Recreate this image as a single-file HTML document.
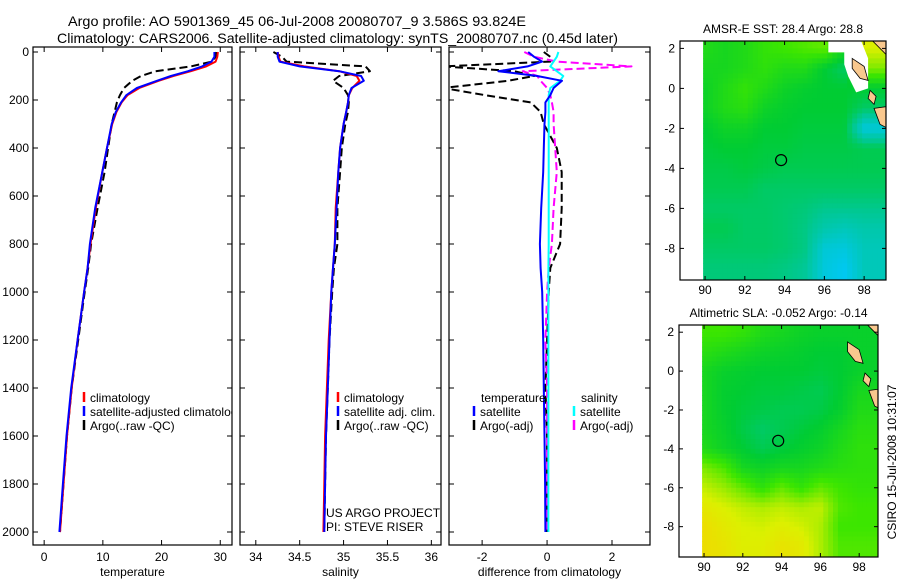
<!DOCTYPE html>
<html><head><meta charset="utf-8"><style>
html,body{margin:0;padding:0;background:#fff;}
svg{display:block;font-family:"Liberation Sans",sans-serif;}
</style></head><body>
<svg id="fig" width="900" height="580" viewBox="0 0 900 580" xmlns="http://www.w3.org/2000/svg">
<defs>
<clipPath id="c1"><rect x="33" y="47" width="199" height="498"/></clipPath>
<clipPath id="c2"><rect x="240" y="47" width="201" height="498"/></clipPath>
<clipPath id="c3"><rect x="449" y="47" width="201" height="498"/></clipPath>
<clipPath id="cm1"><rect x="680" y="41" width="206" height="239"/></clipPath>
<clipPath id="cm2"><rect x="679" y="325" width="199" height="232"/></clipPath>
</defs>
<text x="68" y="26" font-size="14" textLength="458" lengthAdjust="spacingAndGlyphs">Argo profile: AO 5901369_45 06-Jul-2008 20080707_9 3.586S 93.824E</text>
<text x="57" y="43" font-size="14" textLength="561" lengthAdjust="spacingAndGlyphs">Climatology: CARS2006. Satellite-adjusted climatology: synTS_20080707.nc (0.45d later)</text>
<g id="plots"></g>
<text transform="translate(896,462) rotate(-90)" font-size="12" text-anchor="middle">CSIRO 15-Jul-2008 10:31:07</text>
</svg>
<script>
// ---- profile data (depth in m) ----
const depth      = [0,   20,  40,  60,  80,  100, 120, 150, 180, 210, 250, 300, 400, 500, 650, 800, 900, 1000,1200,1400,1600,1800,2000];
const tempClim   = [29.6,29.5,29.2,27.6,25.0,22.0,19.5,16.2,14.2,13.2,12.3,11.6,10.7,9.9, 8.8, 7.9, 7.4, 6.8, 5.7, 4.7, 3.9, 3.3, 2.7];
const tempSat    = [29.0,29.0,28.5,26.9,24.5,21.6,19.2,15.8,14.0,13.1,12.2,11.5,10.7,9.9, 8.7, 7.8, 7.4, 6.8, 5.7, 4.6, 3.8, 3.2, 2.6];
const tempArgo   = [29.3,29.2,28.6,25.0,19.0,16.5,15.0,13.6,12.9,12.4,12.0,11.5,10.9,10.3,9.1, 8.0, 7.5, 6.9, 5.8, 4.7, 3.9, 3.3, 2.7];
const salClim    = [34.25,34.26,34.28,34.55,34.95,35.15,35.18,35.10,35.06,35.05,35.03,35.00,34.96,34.94,34.91,34.90,34.88,34.86,34.83,34.81,34.79,34.78,34.77];
const salSat     = [34.25,34.25,34.27,34.50,34.95,35.20,35.23,35.09,35.06,35.05,35.03,35.00,34.96,34.94,34.92,34.90,34.88,34.86,34.84,34.82,34.80,34.79,34.78];
const salArgo    = [34.20,34.30,34.35,35.25,35.30,34.95,34.88,35.00,35.05,35.06,35.05,35.02,34.98,34.96,34.93,34.93,34.89,34.87,34.84,34.82,34.80,34.79,34.78];
const dTempSat   = [-0.58,-0.40,-0.15,-0.6,-1.5,-0.3,0.46,0.20,0.10,-0.05,-0.05,-0.08,-0.10,-0.12,-0.18,-0.22,-0.20,-0.15,-0.12,-0.10,-0.08,-0.06,-0.05];
const dTempArgo  = [-0.10,0.10,0.10,-3.20,-1.0,-0.4,-1.2,-3.20,-1.90,-0.50,-0.20,-0.10,0.30,0.45,0.45,0.40,0.10,0.05,0.00,-0.05,0.00,0.00,0.00];
const dSalSat    = [0.35,0.30,0.20,0.10,0.30,0.50,0.40,0.10,0.05,0.05,0.05,0.05,0.05,0.05,0.05,0.05,0.04,0.04,0.04,0.04,0.04,0.04,0.04];
const dSalArgo   = [-0.70,-0.40,0.30,2.60,-0.75,-0.30,-0.20,0.00,0.10,0.15,0.20,0.20,0.25,0.30,0.20,0.15,0.05,0.00,-0.05,0.00,0.00,0.00,0.00];
const depthTicks = [0,200,400,600,800,1000,1200,1400,1600,1800,2000];
const tTicks = [0,10,20,30];
const sTicks = [34,34.5,35,35.5,36];
const sTickLabels = ["34","34.5","35","35.5","36"];
const dTicks = [-2,0,2];
// ---- map fields (rows lat 2..-9, cols lon 90..98) ----
const sstField = [
[.62,.60,.62,.66,.68,.70,.72,.60,.85],
[.60,.60,.62,.65,.62,.62,.55,.50,.75],
[.58,.62,.66,.62,.58,.56,.55,.55,.55],
[.58,.62,.64,.58,.56,.55,.55,.55,.50],
[.55,.58,.58,.55,.55,.54,.54,.54,.35],
[.54,.55,.55,.54,.54,.53,.53,.53,.52],
[.53,.53,.54,.53,.52,.52,.52,.52,.52],
[.52,.52,.52,.50,.50,.50,.50,.50,.50],
[.50,.50,.50,.50,.49,.48,.46,.46,.46],
[.52,.52,.50,.50,.49,.47,.42,.40,.42],
[.50,.50,.50,.50,.49,.47,.36,.35,.40],
[.48,.48,.48,.48,.47,.45,.35,.32,.40]];
const slaField = [
[.68,.68,.66,.62,.60,.58,.57,.57,.57],
[.64,.62,.60,.58,.57,.56,.55,.55,.57],
[.60,.57,.56,.55,.55,.55,.54,.55,.57],
[.60,.56,.55,.54,.54,.53,.52,.55,.60],
[.60,.56,.54,.53,.52,.52,.53,.56,.62],
[.60,.57,.53,.50,.52,.54,.56,.60,.64],
[.62,.58,.55,.52,.54,.56,.58,.62,.65],
[.75,.70,.60,.58,.60,.60,.62,.64,.65],
[.82,.78,.72,.65,.72,.66,.72,.68,.66],
[.88,.85,.82,.80,.82,.80,.82,.70,.68],
[.92,.88,.85,.84,.86,.84,.80,.68,.68],
[.92,.90,.86,.86,.90,.88,.80,.70,.70]];
const argoLon = 93.824, argoLat = -3.586;
const lonTicks = [90,92,94,96,98];
const latTicks = [2,0,-2,-4,-6,-8];

const NS='http://www.w3.org/2000/svg';
const root=document.getElementById('plots');
function el(tag,attrs,parent){const e=document.createElementNS(NS,tag);for(const k in attrs)e.setAttribute(k,attrs[k]);(parent||root).appendChild(e);return e;}
const yD = d => 52 + d*0.24;

function panel(name,x0,x1,dmin,dmax,ticks,labels,xlabel,clip,yLabels){
  const sx=v=>x0+(v-dmin)/(dmax-dmin)*(x1-x0);
  const g=el('g',{});
  
  
  const r=el('rect',{x:x0,y:47,width:x1-x0,height:498,fill:'#fff',stroke:'#000','stroke-width':1.2},g);
  
  
  ticks.forEach((t,i)=>{
    const x=sx(t);
    el('line',{x1:x,y1:545,x2:x,y2:540,stroke:'#000'},g);
    el('line',{x1:x,y1:47,x2:x,y2:52,stroke:'#000'},g);
    const tx=el('text',{x:x,y:561,'font-size':12,'text-anchor':'middle'},g);
    tx.textContent=labels[i];
    
    
  });
  depthTicks.forEach(d=>{
    const y=yD(d);
    el('line',{x1:x0,y1:y,x2:x0+5,y2:y,stroke:'#000'},g);
    el('line',{x1:x1,y1:y,x2:x1-5,y2:y,stroke:'#000'},g);
    if(yLabels){const t=el('text',{x:x0-4,y:y+4,'font-size':12,'text-anchor':'end'},g);t.textContent=d;
      
      }
  });
  const xl=el('text',{x:(x0+x1)/2,y:576,'font-size':12,'text-anchor':'middle'},g);
  xl.textContent=xlabel;
  
  
  const cg=el('g',{'clip-path':'url(#'+clip+')'},g);
  return {sx,g:cg};
}
function line(p,vals,color,dash,name){
  const pts=vals.map((v,i)=>p.sx(v).toFixed(1)+','+yD(depth[i]).toFixed(1)).join(' ');
  const l=el('polyline',{points:pts,fill:'none',stroke:color,'stroke-width':2,'stroke-dasharray':dash||'none','stroke-linejoin':'round'},p.g);
  
  
}
function legend(p,x,y,color,label){
  el('line',{x1:x,y1:y-10,x2:x,y2:y,stroke:color,'stroke-width':2.5},p.g);
  const t=el('text',{x:x+6,y:y,'font-size':12},p.g);t.textContent=label;
  
  
}
const p1=panel('temperature-panel',33,232,-1.9,32,tTicks,tTicks.map(String),'temperature','c1',true);
line(p1,tempArgo,'#000','8,4','temp-argo-line');
line(p1,tempClim,'#f00',null,'temp-climatology-line');
line(p1,tempSat,'#00f',null,'temp-satellite-line');
legend(p1,84,402,'#f00','climatology');legend(p1,84,416,'#00f','satellite-adjusted climatology');legend(p1,84,430,'#000','Argo(..raw -QC)');

const p2=panel('salinity-panel',240,441,33.82,36.11,sTicks,sTickLabels,'salinity','c2',false);
line(p2,salArgo,'#000','8,4','sal-argo-line');
line(p2,salClim,'#f00',null,'sal-climatology-line');
line(p2,salSat,'#00f',null,'sal-satellite-line');
legend(p2,338,402,'#f00','climatology');legend(p2,338,416,'#00f','satellite adj. clim.');legend(p2,338,430,'#000','Argo(..raw -QC)');
const pa=el('text',{x:326,y:517,'font-size':12},p2.g);pa.textContent='US ARGO PROJECT';

const pb=el('text',{x:326,y:531,'font-size':12},p2.g);pb.textContent='PI: STEVE RISER';


const p3=panel('difference-panel',449,650,-3.02,3.17,dTicks,dTicks.map(String),'difference from climatology','c3',false);
line(p3,dTempArgo,'#000','8,4','dtemp-argo-line');
line(p3,dSalArgo,'#f0f','8,4','dsal-argo-line');
line(p3,dSalSat,'#0ff',null,'dsal-satellite-line');
line(p3,dTempSat,'#00f',null,'dtemp-satellite-line');
const lt=el('text',{x:481,y:402,'font-size':12},p3.g);lt.textContent='temperature';

const ls=el('text',{x:581,y:402,'font-size':12},p3.g);ls.textContent='salinity';

legend(p3,474,416,'#00f','satellite');legend(p3,474,430,'#000','Argo(-adj)');
legend(p3,574,416,'#0ff','satellite');legend(p3,574,430,'#f0f','Argo(-adj)');

// ---- maps ----
const stops=[[0,[0,0,255]],[0.3,[0,200,255]],[0.45,[0,200,150]],[0.55,[0,204,51]],[0.68,[60,230,0]],[0.85,[220,240,0]],[1,[255,200,0]]];
function cmap(v){for(let i=1;i<stops.length;i++){if(v<=stops[i][0]){const a=stops[i-1],b=stops[i];const f=(v-a[0])/(b[0]-a[0]);const c=a[1].map((x,k)=>Math.round(x+(b[1][k]-x)*f));return 'rgb('+c.join(',')+')';}}return 'rgb(255,200,0)';}
function sample(field,lon,lat){
  const r=Math.max(0,Math.min(11,2-lat)),c=Math.max(0,Math.min(8,lon-90));
  const r0=Math.floor(r),c0=Math.floor(c),r1=Math.min(11,r0+1),c1=Math.min(8,c0+1),fr=r-r0,fc=c-c0;
  return field[r0][c0]*(1-fr)*(1-fc)+field[r0][c1]*(1-fr)*fc+field[r1][c0]*fr*(1-fc)+field[r1][c1]*fr*fc;
}
function map(name,field,box,lonR,latR,title,titleY,white){
  const [x0,y0,x1,y1]=box;
  const sx=l=>x0+(l-lonR[0])/(lonR[1]-lonR[0])*(x1-x0);
  const sy=l=>y0+(latR[0]-l)/(latR[0]-latR[1])*(y1-y0);
  const g=el('g',{});
  
  
  const cg=el('g',{'clip-path':'url(#'+(name==='sst-map'?'cm1':'cm2')+')'},g);
  const step=0.25;
  for(let lat=2.5;lat>-9.75;lat-=step){
    for(let lon=89.9;lon<99;lon+=step){
      const v=sample(field,lon+step/2,lat-step/2);
      el('rect',{x:sx(lon).toFixed(1),y:sy(lat).toFixed(1),width:(sx(lon+step)-sx(lon)+0.6).toFixed(1),height:(sy(lat-step)-sy(lat)+0.6).toFixed(1),fill:cmap(v)},cg);
    }
  }
  if(white){el('path',{d:`M${sx(96.2)},${sy(2.5)} L${sx(96.2)},${sy(1.8)} L${sx(97)},${sy(1.8)} L${sx(97)},${sy(1.2)} L${sx(97.2)},${sy(0.6)} L${sx(97.6)},${sy(-0.2)} L${sx(98.2)},${sy(0)} L${sx(98.2)},${sy(1.5)} L${sx(97.8)},${sy(2.5)} Z`,fill:'#fff'},cg);}
  el('path',{d:`M${sx(98.3)},${sy(2.5)} L${sx(99.2)},${sy(1.6)} L${sx(99.2)},${sy(2.5)} Z`,fill:'#f9c88e',stroke:'#000','stroke-width':0.8},cg);
  el('path',{d:`M${sx(97.4)},${sy(1.5)} L${sx(98.0)},${sy(1.1)} L${sx(98.2)},${sy(0.4)} L${sx(97.8)},${sy(0.5)} L${sx(97.4)},${sy(1.0)} Z`,fill:'#f9c88e',stroke:'#000','stroke-width':0.8},cg);
  el('path',{d:`M${sx(98.5)},${sy(-1.0)} L${sx(99.2)},${sy(-0.9)} L${sx(99.2)},${sy(-2)} L${sx(98.8)},${sy(-1.8)} Z`,fill:'#f9c88e',stroke:'#000','stroke-width':0.8},cg);
  el('path',{d:`M${sx(98.3)},${sy(-0.1)} L${sx(98.6)},${sy(-0.4)} L${sx(98.5)},${sy(-0.8)} L${sx(98.2)},${sy(-0.5)} Z`,fill:'#f9c88e',stroke:'#000','stroke-width':0.8},cg);
  const fr=el('rect',{x:x0,y:y0,width:x1-x0,height:y1-y0,fill:'none',stroke:'#000','stroke-width':1.2},g);
  
  const c=el('circle',{cx:sx(argoLon),cy:sy(argoLat),r:5.5,fill:'none',stroke:'#000','stroke-width':1.2},g);
  
  lonTicks.forEach(l=>{const x=sx(l);el('line',{x1:x,y1:y1,x2:x,y2:y1-4,stroke:'#000'},g);el('line',{x1:x,y1:y0,x2:x,y2:y0+4,stroke:'#000'},g);
    const t=el('text',{x:x,y:y1+14,'font-size':12,'text-anchor':'middle'},g);t.textContent=l;
    });
  latTicks.forEach(l=>{const y=sy(l);el('line',{x1:x0,y1:y,x2:x0+4,y2:y,stroke:'#000'},g);el('line',{x1:x1,y1:y,x2:x1-4,y2:y,stroke:'#000'},g);
    const t=el('text',{x:x0-5,y:y+4,'font-size':12,'text-anchor':'end'},g);t.textContent=l;
    });
  const tt=el('text',{x:(x0+x1)/2,y:titleY,'font-size':12,'text-anchor':'middle'},g);tt.textContent=title;
  
}
map('sst-map',sstField,[680,41,886,280],[88.74,99.1],[2.37,-9.58],'AMSR-E SST: 28.4 Argo: 28.8',33,true);
map('sla-map',slaField,[679,325,878,557],[88.71,98.97],[2.37,-9.56],'Altimetric SLA: -0.052 Argo: -0.14',317,false);
</script>
</body></html>
